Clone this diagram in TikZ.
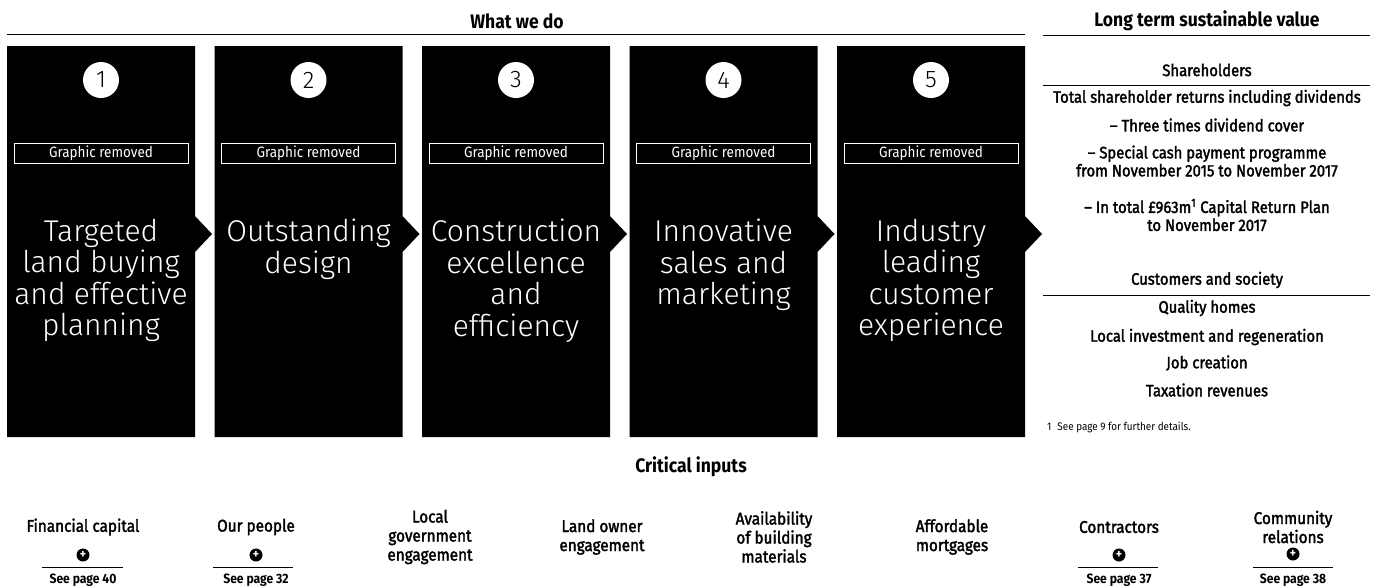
\documentclass[tikz,border=0pt]{standalone}
\usepackage{fontspec}
\setmainfont{Fira Sans}[FakeStretch=0.9]
\newfontfamily\medfont{Fira Sans}[FakeStretch=0.9, FakeBold=2]
\newfontfamily\lightfont{Fira Sans Light}

\tikzset{
  stagetext/.style={text=white, align=center, inner sep=0pt, anchor=north,
    font=\lightfont\fontsize{30}{31.5}\selectfont},
  stagenum/.style={circle, fill=white, minimum size=36pt, inner sep=0pt,
    font=\lightfont\fontsize{24}{24}\selectfont},
  gfxbox/.style={draw=white, line width=0.8pt, text=white, minimum width=174pt,
    minimum height=20pt, inner sep=0pt, font=\fontsize{15}{15}\selectfont},
  headtext/.style={font=\bfseries\fontsize{19.5}{19.5}\selectfont},
  valtext/.style={align=center, inner sep=0pt, font=\medfont\fontsize{16.5}{18}\selectfont},
  inputtext/.style={align=center, inner sep=0pt, font=\medfont\fontsize{17}{19}\selectfont},
  seepage/.style={inner sep=0pt, font=\bfseries\fontsize{13.5}{13.5}\selectfont},
  plusicon/.style={circle, fill=black, minimum size=13pt, inner sep=0pt, text=white,
    font=\bfseries\fontsize{13}{13}\selectfont},
}

\begin{document}
\begin{tikzpicture}[x=1pt,y=-1pt]
  \useasboundingbox (0,0) rectangle (1379,587);

  % headings
  \node[headtext] (hdrdo) at (517,21) {What we do};
  \draw[line width=0.9pt] (7,34) -- (1025,34);
  \node[headtext] (hdrvalue) at (1207,21) {Long term sustainable value};
  \draw[line width=0.9pt] (1043,35) -- (1370,35);

  % the five stages
  \foreach \i/\txt in {1/{Targeted\\land buying\\and effective\\planning},
                       2/{Outstanding\\design},
                       3/{Construction\\excellence\\and\\efficiency},
                       4/{Innovative\\sales and\\marketing},
                       5/{Industry\\leading\\customer\\experience}} {
    \pgfmathsetmacro\L{7+(\i-1)*207.5}
    \fill (\L,46) -- (\L+188,46) -- (\L+188,216) -- (\L+205,234)
          -- (\L+188,252) -- (\L+188,437) -- (\L,437) -- cycle;
    \node[stagenum] (num\i) at (\L+94,80) {\i};
    \node[gfxbox] (gfx\i) at (\L+94,153) {Graphic removed};
    \node[stagetext] (stage\i) at (\L+94,219) {\txt};
  }

  % long term value
  \node[valtext] (share) at (1207,70) {Shareholders};
  \draw[line width=0.9pt] (1043,85) -- (1370,85);
  \node[valtext] (tsr) at (1207,98) {Total shareholder returns including dividends};
  \node[valtext] (cover) at (1207,125) {– Three times dividend cover};
  \node[valtext] (cash) at (1207,161) {– Special cash payment programme\\from November 2015 to November 2017};
  \node[valtext] (plan) at (1207,215) {– In total £963m\textsuperscript{1} Capital Return Plan\\to November 2017};
  \node[valtext] (cust) at (1207,280) {Customers and society};
  \draw[line width=0.9pt] (1043,295) -- (1370,295);
  \node[valtext] (homes) at (1207,308) {Quality homes};
  \node[valtext] (invest) at (1207,337) {Local investment and regeneration};
  \node[valtext] (jobs) at (1207,363) {Job creation};
  \node[valtext] (tax) at (1207,390) {Taxation revenues};
  \node[anchor=west, inner sep=0pt, font=\fontsize{11}{11}\selectfont] (foot) at (1047,427)
    {1\hspace{6pt}See page 9 for further details.};

  % critical inputs
  \node[headtext] (inputs) at (691,467) {Critical inputs};

  \node[inputtext] (fin) at (83,527) {Financial capital};
  \node[plusicon] (finplus) at (83,555) {+};
  \draw[line width=0.9pt] (42,567) -- (123,567);
  \node[seepage] (finpage) at (83,580) {See page 40};

  \node[inputtext] (people) at (256,527) {Our people};
  \node[plusicon] (peopleplus) at (256,555) {+};
  \draw[line width=0.9pt] (213,567) -- (293,567);
  \node[seepage] (peoplepage) at (256,580) {See page 32};

  \node[inputtext] (gov) at (430,537) {Local\\government\\engagement};
  \node[inputtext] (owner) at (602,537) {Land owner\\engagement};
  \node[inputtext] (mats) at (774,537) {Availability\\of building\\materials};
  \node[inputtext] (mort) at (952,537) {Affordable\\mortgages};

  \node[inputtext] (contr) at (1119,527) {Contractors};
  \node[plusicon] (contrplus) at (1119,555) {+};
  \draw[line width=0.9pt] (1078,567) -- (1158,567);
  \node[seepage] (contrpage) at (1119,580) {See page 37};

  \node[inputtext] (comm) at (1293,527) {Community\\relations};
  \node[plusicon] (commplus) at (1293,554) {+};
  \draw[line width=0.9pt] (1253,567) -- (1333,567);
  \node[seepage] (commpage) at (1293,580) {See page 38};
\end{tikzpicture}
\end{document}
